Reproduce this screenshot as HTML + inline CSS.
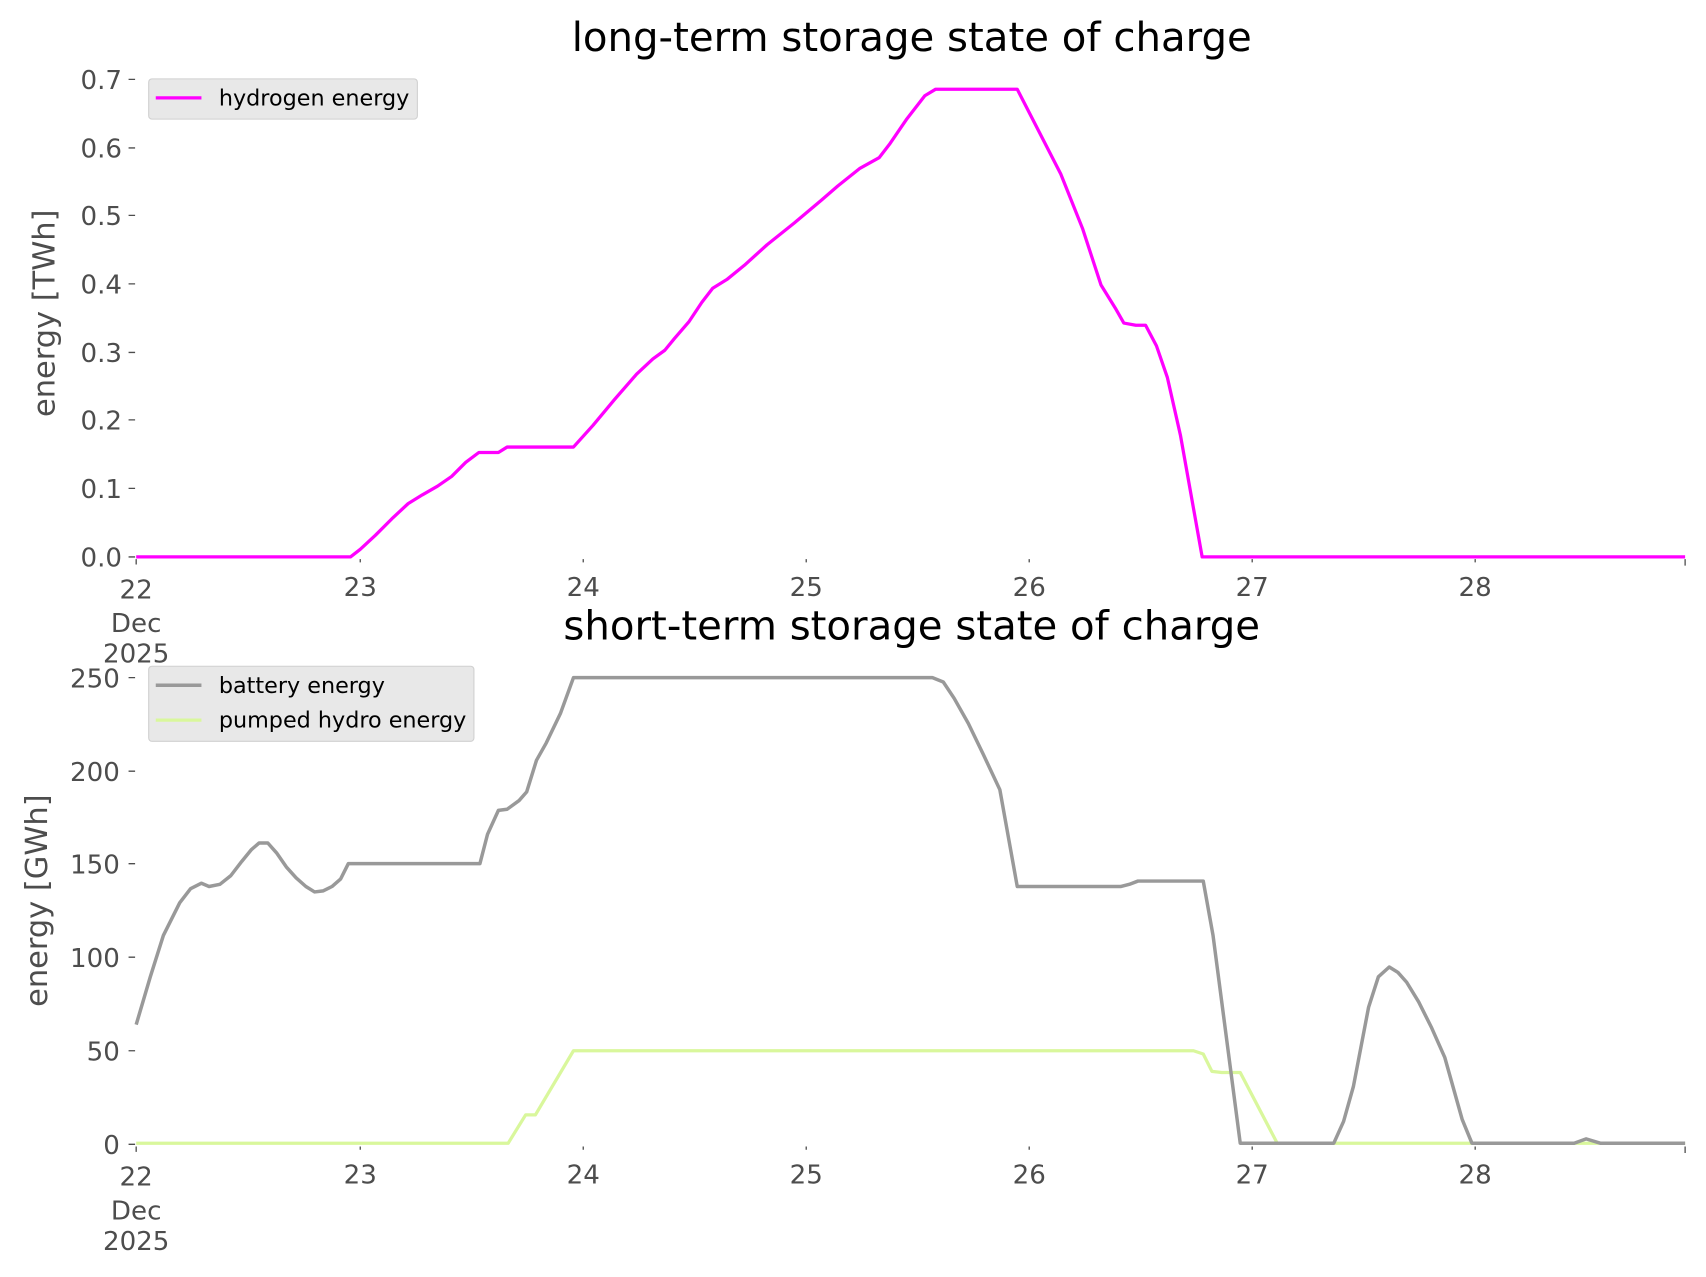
<!DOCTYPE html>
<html><head><meta charset="utf-8"><style>
html,body{margin:0;padding:0;background:#fff;}
svg{display:block;}
text{font-family:"DejaVu Sans","Liberation Sans",sans-serif;}
</style></head><body>
<svg width="1706" height="1277" viewBox="0 0 1568 1174" xmlns="http://www.w3.org/2000/svg">
<rect width="1568" height="1174" fill="#fff"/>
<text x="838" y="47" font-size="37" text-anchor="middle" fill="#000">long-term storage state of charge</text>
<text x="838" y="588" font-size="37" text-anchor="middle" fill="#000">short-term storage state of charge</text>
<text transform="translate(50,288) rotate(-90)" font-size="28" text-anchor="middle" fill="#4d4d4d">energy [TWh]</text>
<text transform="translate(43,828) rotate(-90)" font-size="28" text-anchor="middle" fill="#4d4d4d">energy [GWh]</text>
<g font-size="24" fill="#4d4d4d" text-anchor="end">
<text x="112" y="521">0.0</text><text x="112" y="458">0.1</text><text x="112" y="395">0.2</text><text x="112" y="333">0.3</text><text x="112" y="270">0.4</text><text x="112" y="207">0.5</text><text x="112" y="145">0.6</text><text x="112" y="82">0.7</text>
<text x="110" y="1061">0</text><text x="110" y="975">50</text><text x="110" y="889">100</text><text x="110" y="803">150</text><text x="110" y="718">200</text><text x="110" y="632">250</text>
</g>
<g stroke="#4d4d4d" stroke-width="1.2">
<path d="M118 512H124M118 449H124M118 386H124M118 324H124M118 261H124M118 198H124M118 136H124M118 73H124"/>
<path d="M118 1052H124M118 966H124M118 880H124M118 794H124M118 709H124M118 623H124"/>
<path d="M125 514V519M331 514V517M536 514V517M741 514V517M946 514V517M1151 514V517M1356 514V517M1549 514V520"/>
<path d="M125 1054V1059M331 1054V1057M536 1054V1057M741 1054V1057M946 1054V1057M1151 1054V1057M1356 1054V1057M1549 1054V1060"/>
</g>
<g font-size="24" fill="#4d4d4d" text-anchor="middle">
<text x="125" y="550">22</text><text x="125" y="581">Dec</text><text x="125" y="609">2025</text>
<text x="331" y="548">23</text><text x="536" y="548">24</text><text x="741" y="548">25</text><text x="946" y="548">26</text><text x="1151" y="548">27</text><text x="1356" y="548">28</text>
<text x="125" y="1090">22</text><text x="125" y="1121">Dec</text><text x="125" y="1149">2025</text>
<text x="331" y="1088">23</text><text x="536" y="1088">24</text><text x="741" y="1088">25</text><text x="946" y="1088">26</text><text x="1151" y="1088">27</text><text x="1356" y="1088">28</text>
</g>
<polyline fill="none" stroke="#ff00ff" stroke-width="3" stroke-linejoin="round" points="125,512 322,512 331,505 345,492 360,477 375,463 388,455 402,447 415,438 428,425 440,416 458,416 466,411 527,411 545,391 565,367 585,344 600,330 611,322 620,311 633,296 645,278 655,265 668,257 684,244 705,225 730,205 755,184 770,171 790,155 808,145 818,132 833,110 850,88 860,82 935,82 975,160 995,210 1012,262 1025,283 1033,297 1044,299 1053,299 1063,318 1073,347 1085,400 1105,512 1549,512"/>
<polyline fill="none" stroke="#d9f79c" stroke-width="3" stroke-linejoin="round" points="125,1051 467,1051 483,1025 492,1025 527,966 1097,966 1106,969 1114,985 1123,986 1140,986 1174,1051 1549,1051"/>
<polyline fill="none" stroke="#999999" stroke-width="3.2" stroke-linejoin="round" points="125,942 138,898 150,860 165,830 175,817 185,812 192,815 202,813 212,805 222,792 231,781 238,775 246,775 254,784 263,797 272,807 281,815 289,820 297,819 305,815 313,808 320,794 441,794 448,767 458,745 466,744 477,736 484,728 493,699 502,683 515,656 527,623 857,623 867,627 877,642 890,665 904,694 919,726 935,815 1030,815 1038,813 1046,810 1106,810 1115,860 1140,1051 1226,1051 1235,1031 1244,999 1258,926 1267,898 1277,889 1285,894 1293,903 1304,921 1316,945 1328,972 1344,1029 1353,1051 1447,1051 1458,1047 1471,1051 1549,1051"/>
<rect x="136.5" y="72.5" width="247" height="37" rx="3" fill="#e8e8e8" stroke="#d0d0d0"/>
<line x1="143" y1="90" x2="185" y2="90" stroke="#ff00ff" stroke-width="3"/>
<text x="201" y="97" font-size="20.5" fill="#000">hydrogen energy</text>
<rect x="136.5" y="612.5" width="299" height="69" rx="3" fill="#e8e8e8" stroke="#d0d0d0"/>
<line x1="143" y1="630" x2="185" y2="630" stroke="#999" stroke-width="3.2"/>
<text x="201" y="637" font-size="20.5" fill="#000">battery energy</text>
<line x1="143" y1="662" x2="185" y2="662" stroke="#d9f79c" stroke-width="3"/>
<text x="201" y="669" font-size="20.5" fill="#000">pumped hydro energy</text>
</svg>
</body></html>
